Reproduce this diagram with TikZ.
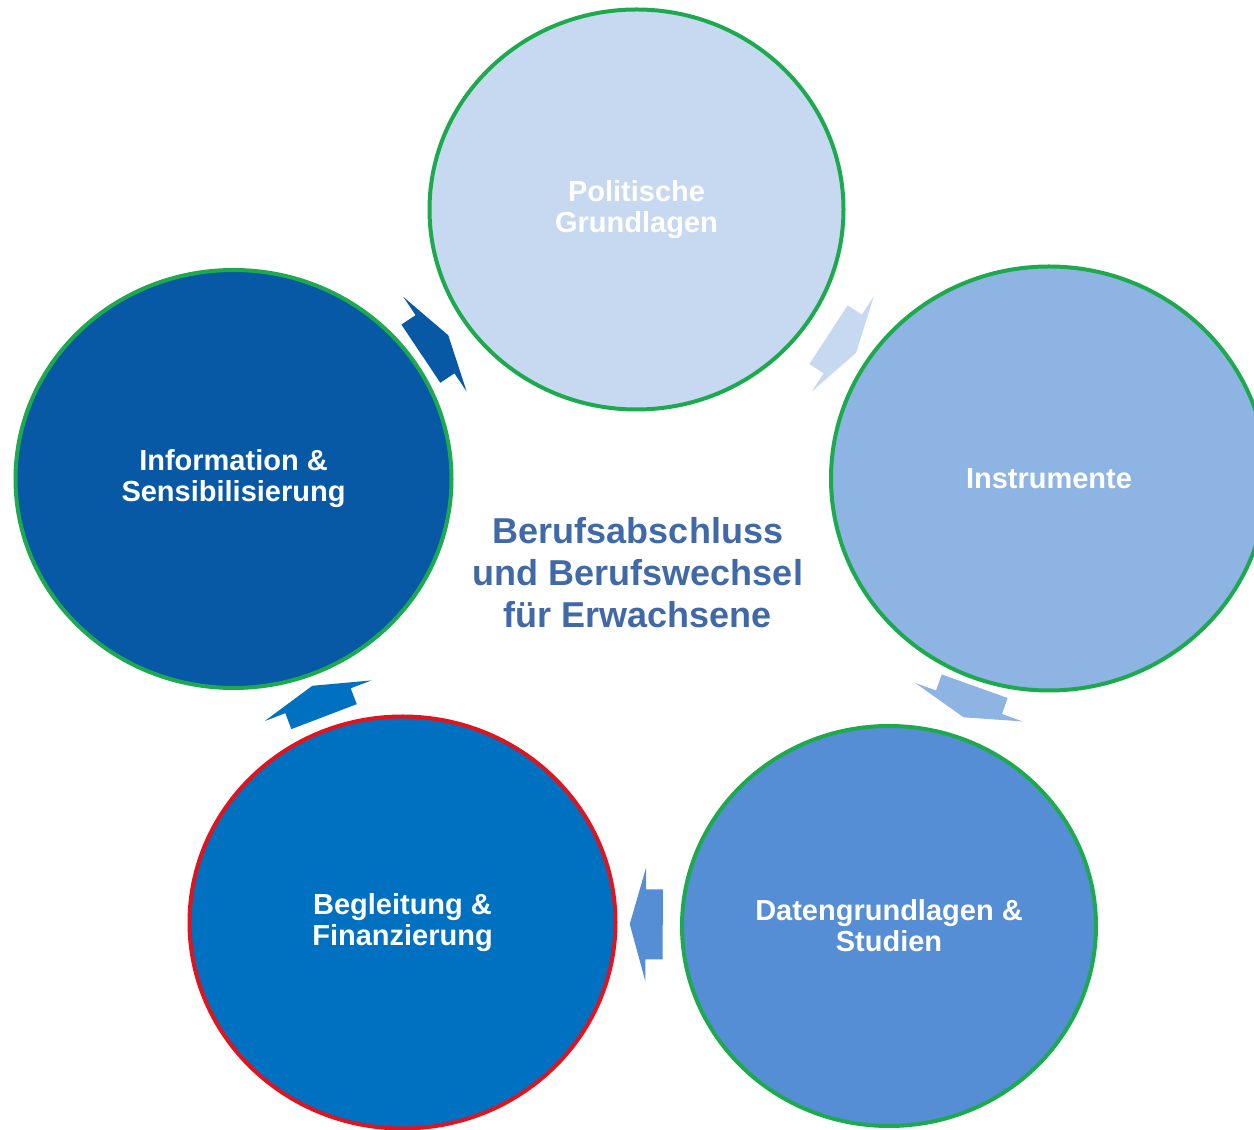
\documentclass[tikz,border=0pt]{standalone}
\usepackage{fontspec}
\setmainfont{Liberation Sans}
\usetikzlibrary{shapes.geometric}

\definecolor{ringgreen}{HTML}{1DAA4F}
\definecolor{ringred}{HTML}{E0141E}
\definecolor{polcol}{HTML}{C6D9F1}
\definecolor{instrcol}{HTML}{8EB4E3}
\definecolor{datencol}{HTML}{558ED5}
\definecolor{beglcol}{HTML}{0070C0}
\definecolor{infocol}{HTML}{0759A6}
\definecolor{mittecol}{HTML}{4169A8}

\tikzset{
  cyclearrow/.pic={
    \fill[pic actions] (-17,-35) -- (0,-35) -- (0,-57) -- (16,0) -- (0,57) -- (0,35) -- (-17,35) -- cycle;
  }
}

\begin{document}
\begin{tikzpicture} [x=0.5pt, y=0.5pt, align=center,
  topic/.style={ellipse, draw=ringgreen, line width=2pt, inner sep=0pt, text=white, font=\bfseries\fontsize{14.5}{15.5}\selectfont},
  turn/.style={sloped, allow upside down}]

\useasboundingbox (0,0) rectangle (1254,1130);

\node[topic, fill=polcol, minimum width=207pt, minimum height=200pt] 	(politik) 	at (636.5,920.5) 	{Politische \\ Grundlagen};
\node[topic, fill=instrcol, minimum width=218pt, minimum height=212pt] 	(instrumente) 	at (1049,651.5) 	{Instrumente};
\node[topic, fill=datencol, minimum width=207pt, minimum height=200pt] 	(daten) 	at (889,204) 	{Datengrundlagen \& \\ Studien};
\node[topic, fill=beglcol, draw=ringred, minimum width=213pt, minimum height=206pt] 	(begleitung) 	at (402.5,207.5) 	{Begleitung \& \\ Finanzierung};
\node[topic, fill=infocol, minimum width=218pt, minimum height=209pt] 	(info) 	at (233.5,651) 	{Information \& \\ Sensibilisierung};

\node[font=\bfseries\fontsize{18}{21}\selectfont, text=mittecol] 	(thema) 	at (638,557) 	{Berufsabschluss \\ und Berufswechsel \\ für Erwachsene};

% cycle arrows
\path 	(info.center) 	-- pic[turn, fill=infocol] {cyclearrow} 	(politik.center)
	(politik.center) 	-- pic[turn, fill=polcol] {cyclearrow} 	(instrumente.center)
	(instrumente.center) 	-- pic[turn, fill=instrcol] {cyclearrow} 	(daten.center)
	(daten.center) 	-- pic[turn, fill=datencol] {cyclearrow} 	(begleitung.center)
	(begleitung.center) 	-- pic[turn, fill=beglcol] {cyclearrow} 	(info.center);

\end{tikzpicture}
\end{document}
